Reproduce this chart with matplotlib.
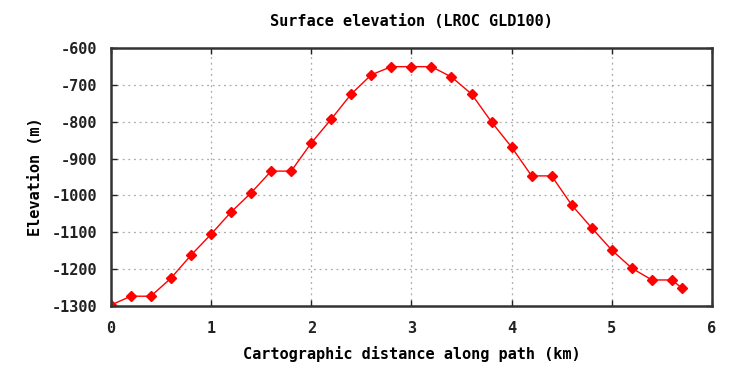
import matplotlib
matplotlib.use("Agg")
from matplotlib import pyplot as plt

# distance along path (km) and elevation (m)
distance = [0.0, 0.2, 0.4, 0.6, 0.8, 1.0, 1.2, 1.4, 1.6, 1.8, 2.0, 2.2, 2.4, 2.6, 2.8,
            3.0, 3.2, 3.4, 3.6, 3.8, 4.0, 4.2, 4.4, 4.6, 4.8, 5.0, 5.2, 5.4, 5.6, 5.7]
elevation = [-1297, -1273, -1273, -1224, -1162, -1105, -1045, -993, -934, -934, -858, -793,
             -725, -673, -651, -651, -651, -679, -725, -801, -869, -947, -947, -1026,
             -1088, -1148, -1197, -1229, -1229, -1251]

xticks = [0, 1, 2, 3, 4, 5, 6]
yticks = [-1300, -1200, -1100, -1000, -900, -800, -700, -600]

plt.rcParams['font.family'] = ['DejaVu Sans Mono']
plt.rcParams['font.weight'] = 'bold'
plt.rcParams['axes.unicode_minus'] = False

fig = plt.figure(figsize=(7.34, 3.68), dpi=100)
ax = fig.add_axes([0.151, 0.168, 0.819, 0.702])

ax.plot(distance, elevation, color='#ff0000', linewidth=1.0, marker='D',
        markersize=5.5, markerfacecolor='#ff0000', markeredgecolor='#ff0000')

ax.set_xlim(0, 6)
ax.set_ylim(-1300, -600)
ax.set_xticks(xticks)
ax.set_yticks(yticks)
ax.tick_params(direction='in', length=4, top=True, right=True, labelsize=11,
               width=1, colors='#222222')
ax.tick_params(axis='x', pad=11)
ax.tick_params(axis='y', pad=10)
for lab in ax.get_xticklabels() + ax.get_yticklabels():
    lab.set_fontweight('bold')
ax.grid(True, color='#aaaaaa', linestyle=(0, (1.5, 3)), linewidth=0.9)
for s in ax.spines.values():
    s.set_linewidth(1.8)
    s.set_color('#333333')

ax.set_title('Surface elevation (LROC GLD100)', fontsize=11, fontweight='bold', pad=16)
ax.set_xlabel('Cartographic distance along path (km)', fontsize=11, fontweight='bold', labelpad=7)
ax.set_ylabel('Elevation (m)', fontsize=11, fontweight='bold', labelpad=6)

fig.savefig('out.png', dpi=100)
